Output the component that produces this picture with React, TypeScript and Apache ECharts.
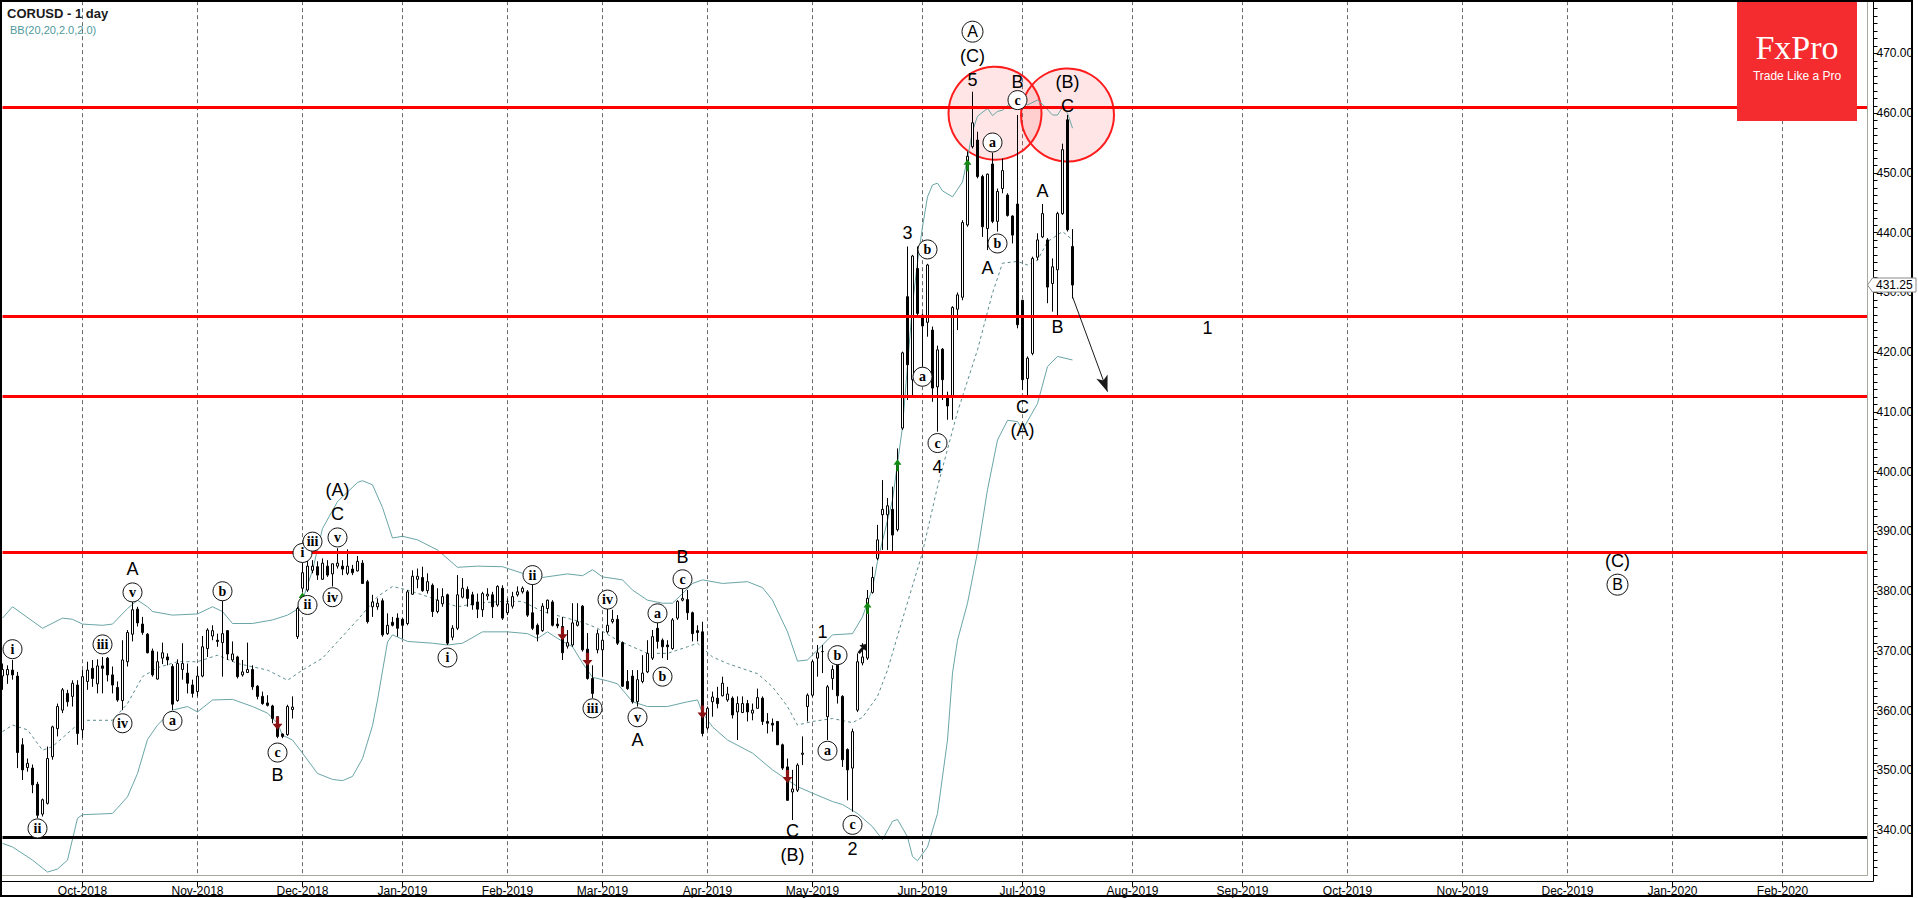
import React, { useEffect, useRef } from 'react';
import * as echarts from 'echarts';

// ---------- axis calendar ----------
const FIRST_DAY = '2018-09-07';
const LAST_DAY = '2020-02-26';
const HOLIDAYS = ['2018-11-22', '2018-12-25', '2019-01-01', '2019-01-21', '2019-02-18', '2019-04-19', '2019-05-27', '2019-07-04', '2019-12-25', '2020-01-01'];
const MONTHS = ['Jan', 'Feb', 'Mar', 'Apr', 'May', 'Jun', 'Jul', 'Aug', 'Sep', 'Oct', 'Nov', 'Dec'];

// ---------- price data: [open, high, low, close] ----------
const candles: number[][] = [
  [365.8, 367.9, 363.5, 366.9], [366.0, 367.6, 364.5, 366.9], [366.8, 368.5, 365.2, 366.0], [365.8, 366.5, 350.4, 353.0],
  [354.3, 355.4, 348.4, 350.1], [350.5, 352.0, 349.8, 351.2], [350.4, 351.0, 346.2, 347.6], [347.7, 348.1, 342.0, 342.5],
  [342.7, 345.3, 342.3, 345.1], [344.5, 354.0, 344.3, 352.0], [352.3, 357.5, 351.8, 357.3], [357.0, 361.2, 355.7, 360.7],
  [360.1, 363.8, 359.6, 363.5], [362.9, 363.5, 360.7, 361.5], [362.4, 365.1, 360.7, 364.6], [364.3, 365.1, 354.3, 356.2],
  [356.8, 366.8, 355.4, 365.7], [364.9, 368.2, 363.5, 366.8], [367.1, 368.5, 364.0, 365.4], [364.5, 368.6, 362.9, 367.5],
  [367.5, 369.0, 362.9, 367.1], [368.8, 369.0, 364.9, 366.0], [366.0, 367.4, 362.9, 364.3], [363.9, 364.9, 361.5, 361.8],
  [361.7, 371.8, 360.1, 368.5], [368.2, 373.5, 367.4, 373.1], [372.8, 378.3, 371.6, 376.9], [377.0, 377.4, 374.1, 374.7],
  [374.5, 375.7, 372.7, 373.1], [372.8, 373.0, 369.6, 369.7], [370.0, 370.4, 365.7, 366.0], [365.3, 369.9, 365.2, 368.2],
  [368.8, 371.4, 367.8, 369.7], [369.0, 369.6, 367.6, 368.5], [367.4, 367.8, 360.1, 361.1], [361.7, 368.6, 361.5, 367.9],
  [366.9, 371.3, 365.2, 367.9], [366.3, 367.9, 362.9, 364.6], [364.3, 365.2, 362.2, 362.9], [363.2, 367.4, 362.4, 365.8],
  [365.8, 372.5, 365.6, 370.7], [370.4, 373.8, 369.0, 373.5], [372.5, 374.3, 371.8, 373.4], [371.8, 372.9, 370.7, 371.6],
  [371.4, 378.5, 365.7, 372.9], [373.4, 373.5, 368.5, 369.5], [368.5, 371.6, 368.2, 369.5], [369.0, 369.2, 365.4, 365.7],
  [366.0, 368.5, 365.7, 366.5], [366.4, 371.4, 366.3, 366.9], [366.9, 367.6, 363.5, 364.0], [364.1, 364.3, 361.9, 362.4],
  [362.4, 363.2, 361.0, 361.2], [361.3, 362.6, 360.7, 360.9], [360.8, 361.0, 357.9, 358.7], [359.0, 359.0, 355.4, 355.7],
  [356.1, 356.2, 355.4, 355.7], [356.0, 361.0, 355.8, 360.7], [360.2, 362.4, 358.7, 360.6], [372.4, 377.4, 372.0, 377.1],
  [380.5, 384.7, 379.9, 383.1], [380.2, 385.2, 379.9, 384.2], [383.5, 385.2, 383.0, 384.2], [384.1, 385.0, 381.9, 382.7],
  [382.0, 385.5, 381.9, 384.7], [384.2, 385.2, 382.4, 382.7], [382.9, 384.6, 380.8, 384.6], [384.2, 387.2, 383.8, 384.7],
  [384.2, 385.2, 382.7, 383.7], [383.0, 387.0, 382.7, 384.2], [383.7, 384.4, 382.7, 383.1], [383.4, 385.9, 383.3, 385.0],
  [384.7, 385.2, 381.2, 381.3], [381.6, 381.9, 374.6, 374.9], [377.4, 379.4, 375.7, 378.2], [377.4, 378.8, 376.9, 378.0],
  [378.4, 378.8, 372.4, 372.7], [372.9, 376.3, 372.7, 374.3], [374.8, 375.7, 374.1, 374.3], [375.5, 376.3, 372.4, 373.8],
  [375.3, 375.5, 372.1, 374.3], [374.6, 380.2, 374.3, 379.9], [379.5, 383.5, 379.4, 382.5], [382.0, 383.8, 380.5, 382.5],
  [382.3, 384.1, 379.9, 380.1], [380.1, 383.0, 379.6, 381.6], [381.0, 381.3, 375.7, 376.6], [376.6, 380.5, 376.3, 378.5],
  [377.9, 380.5, 377.4, 379.1], [379.4, 379.6, 371.0, 371.3], [372.3, 374.3, 371.8, 373.8], [373.8, 382.7, 373.5, 379.4],
  [379.0, 382.2, 378.8, 380.5], [380.3, 380.8, 377.4, 378.8], [379.4, 379.9, 376.9, 377.7], [378.2, 379.6, 375.5, 377.0],
  [376.9, 379.9, 375.7, 379.6], [379.2, 380.5, 378.5, 379.5], [379.4, 379.9, 375.5, 377.4], [377.7, 381.0, 377.4, 380.8],
  [380.5, 381.0, 375.2, 375.5], [376.4, 378.8, 376.0, 377.9], [377.5, 379.9, 377.1, 379.1], [379.4, 380.8, 379.1, 379.9],
  [379.9, 380.8, 379.6, 380.5], [379.9, 380.2, 375.7, 376.0], [376.4, 381.3, 373.5, 373.8], [374.3, 374.6, 371.6, 372.8],
  [373.4, 378.0, 373.2, 377.5], [377.1, 378.6, 376.3, 378.5], [378.2, 378.5, 374.1, 374.3], [374.5, 375.5, 373.8, 374.2],
  [374.1, 375.7, 368.5, 369.7], [370.8, 373.5, 370.4, 371.4], [371.0, 378.0, 370.7, 374.7], [374.3, 378.0, 374.1, 374.9],
  [377.5, 377.7, 369.9, 370.2], [370.3, 373.0, 365.2, 365.4], [365.4, 367.6, 362.1, 362.9], [370.2, 373.6, 369.6, 372.9],
  [370.2, 373.2, 365.7, 371.8], [373.2, 377.4, 372.9, 374.3], [374.9, 376.9, 374.6, 375.3], [375.3, 376.0, 371.0, 371.3],
  [371.4, 371.6, 364.0, 364.1], [364.9, 366.8, 363.5, 363.7], [365.8, 366.8, 361.2, 361.5], [361.5, 366.8, 360.7, 365.2],
  [364.9, 369.3, 364.6, 366.3], [366.5, 371.8, 366.3, 369.6], [368.8, 373.5, 368.5, 372.4], [373.8, 374.9, 370.4, 371.6],
  [371.8, 372.1, 368.8, 370.7], [371.0, 371.8, 368.5, 370.7], [370.4, 375.5, 370.2, 375.2], [375.5, 378.5, 375.2, 378.3],
  [378.5, 380.5, 378.3, 378.8], [378.6, 380.2, 375.2, 376.4], [376.4, 376.6, 371.6, 372.9], [373.4, 374.3, 371.6, 373.1],
  [373.2, 374.9, 355.7, 356.2], [357.1, 360.7, 356.8, 360.4], [361.5, 363.2, 359.0, 362.3], [362.1, 364.0, 360.4, 361.2],
  [362.5, 365.7, 362.4, 364.6], [361.8, 364.0, 361.5, 362.8], [362.1, 362.4, 358.7, 359.3], [359.8, 362.4, 355.1, 361.2],
  [359.7, 362.4, 359.6, 361.2], [361.2, 361.8, 358.2, 359.8], [359.6, 361.2, 358.4, 360.1], [360.4, 363.7, 360.4, 362.2],
  [362.1, 362.4, 357.6, 358.2], [358.2, 359.6, 356.2, 357.9], [357.9, 358.7, 356.5, 357.6], [358.2, 358.2, 354.3, 354.3],
  [354.3, 354.5, 350.1, 350.4], [350.6, 352.0, 345.0, 345.0], [346.4, 350.1, 341.7, 346.9], [346.7, 351.2, 346.4, 350.9],
  [352.7, 355.7, 350.9, 352.9], [360.7, 362.9, 358.2, 362.6], [362.6, 368.5, 362.3, 368.2], [368.8, 371.0, 365.7, 369.7],
  [369.9, 371.0, 366.3, 369.9], [359.0, 364.3, 355.1, 364.0], [365.4, 367.6, 363.5, 366.9], [367.6, 367.9, 361.2, 362.5],
  [362.4, 362.6, 350.6, 351.8], [353.5, 353.7, 345.0, 350.1], [350.4, 357.0, 343.1, 356.5], [360.1, 369.6, 359.8, 368.2],
  [368.0, 371.3, 367.6, 369.0], [368.8, 380.2, 368.5, 378.8], [379.8, 384.1, 379.6, 382.3], [385.5, 391.1, 385.2, 388.6],
  [392.8, 398.6, 386.9, 393.7], [392.8, 395.6, 386.9, 394.3], [393.7, 397.5, 386.6, 389.4], [390.3, 403.9, 390.0, 401.1],
  [407.3, 420.1, 407.0, 419.9], [429.3, 437.7, 412.0, 417.9], [415.4, 436.3, 412.6, 436.1], [434.0, 437.7, 426.0, 426.5],
  [426.2, 426.5, 417.6, 424.4], [425.0, 434.8, 422.6, 434.6], [423.7, 424.3, 411.7, 414.0], [414.2, 421.1, 406.7, 420.4],
  [420.5, 420.7, 412.0, 415.4], [412.5, 413.4, 408.7, 411.0], [412.6, 427.7, 408.7, 427.5], [427.2, 430.0, 423.7, 429.6],
  [429.2, 442.1, 428.7, 441.7], [441.3, 453.6, 441.0, 452.8], [454.4, 463.6, 454.1, 458.4], [455.5, 456.9, 449.1, 449.4],
  [449.4, 449.7, 439.3, 441.0], [440.7, 449.9, 437.1, 449.8], [451.5, 453.4, 441.6, 441.9], [441.9, 447.4, 440.2, 446.9],
  [447.4, 452.4, 446.6, 450.4], [446.3, 446.6, 442.7, 442.9], [442.8, 442.9, 438.2, 439.6], [444.8, 459.7, 424.0, 424.6],
  [428.7, 428.7, 413.7, 415.4], [415.6, 419.3, 412.8, 419.0], [419.8, 436.0, 419.5, 435.7], [435.9, 439.9, 435.4, 438.8],
  [439.3, 444.8, 439.1, 443.2], [438.8, 439.1, 428.2, 430.9], [431.5, 435.7, 426.8, 434.3], [433.8, 443.5, 426.2, 443.2],
  [443.2, 454.9, 443.0, 453.9], [458.9, 459.7, 440.2, 440.5], [437.7, 440.6, 429.0, 431.25],
];

// ---------- Bollinger bands: [bar index, value] ----------
const bbUpper: number[][] = [
  [0, 375.5], [2, 377.4], [8, 373.8], [12, 375.5], [14, 375.3], [16, 374.5], [20, 374.3], [22, 374.5], [25, 377.1], [27, 378.5],
  [29, 377.4], [30, 376.6], [34, 376.0], [39, 376.2], [42, 377.4], [44, 376.6], [46, 374.6], [50, 374.6], [54, 375.2], [57, 376.0],
  [59, 377.0], [60, 378.5], [62, 383.5], [64, 390.5], [67, 395.0], [71, 398.2], [72, 398.5], [74, 397.8], [76, 394.0], [78, 388.9],
  [80, 389.2], [83, 388.6], [87, 386.9], [91, 384.0], [95, 384.2], [100, 384.1], [104, 383.0], [108, 382.3], [113, 382.9], [116, 382.6],
  [118, 383.6], [120, 382.4], [124, 381.9], [126, 380.2], [129, 378.5], [132, 378.0], [134, 378.0], [136, 379.6], [138, 381.3], [140, 381.9],
  [144, 381.3], [149, 381.6], [152, 380.6], [154, 378.5], [157, 373.2], [159, 368.3], [161, 368.5], [164, 371.0], [166, 372.7], [170, 372.9],
  [172, 375.7], [174, 380.5], [175, 385.0], [178, 395.3], [180, 407.5], [182, 428.0], [183, 435.0], [184, 441.0], [185, 446.0], [186, 448.0],
  [187, 448.3], [188, 447.0], [190, 446.0], [192, 448.5], [193, 452.5], [194, 457.0], [195, 459.5], [197, 460.8], [198, 459.6], [199, 460.3],
  [200, 460.5], [202, 462.0], [203, 462.2], [205, 461.4], [207, 462.2], [208, 461.5], [210, 459.7], [211, 459.7], [212, 461.0], [213, 460.0],
  [214, 457.5],
];
const bbMiddle: number[][] = [
  [0, 356.5], [2, 357.6], [5, 356.8], [8, 353.4], [10, 354.0], [13, 356.2], [16, 358.4], [22, 358.4], [25, 361.2], [28, 365.7],
  [31, 367.2], [35, 368.2], [39, 368.2], [43, 369.3], [47, 367.9], [53, 366.8], [57, 365.1], [60, 366.8], [64, 368.8], [71, 375.2],
  [75, 379.1], [78, 380.8], [81, 380.2], [85, 379.1], [91, 377.4], [95, 378.0], [100, 378.3], [104, 378.3], [108, 376.6], [112, 375.7],
  [116, 374.8], [119, 373.8], [123, 371.8], [129, 369.6], [133, 369.6], [137, 370.7], [139, 371.3], [142, 369.0], [145, 367.9], [151, 366.2],
  [154, 364.0], [157, 360.7], [159, 357.6], [162, 358.2], [166, 358.7], [170, 358.0], [172, 358.9], [175, 362.4], [177, 366.8], [179, 372.5],
  [184, 386.5], [187, 397.5], [191, 410.0], [195, 420.4], [198, 429.9], [200, 434.9], [203, 435.2], [205, 434.6], [207, 435.4], [209, 438.5],
  [212, 440.2], [214, 438.8],
];
const bbLower: number[][] = [
  [0, 337.8], [2, 337.2], [6, 335.0], [9, 333.0], [11, 333.5], [13, 335.0], [15, 342.0], [16, 342.6], [22, 342.8], [25, 345.6],
  [27, 349.5], [29, 355.2], [31, 357.6], [34, 360.1], [37, 360.7], [39, 359.8], [42, 361.8], [46, 361.9], [50, 360.7], [53, 359.6],
  [55, 357.9], [56, 355.9], [58, 355.1], [60, 352.9], [63, 349.5], [66, 348.5], [68, 348.3], [70, 349.0], [72, 352.0], [74, 357.5],
  [75, 361.8], [77, 371.5], [78, 372.7], [81, 371.6], [86, 371.3], [89, 371.0], [92, 371.3], [96, 373.2], [101, 373.2], [105, 372.9],
  [107, 372.1], [109, 373.2], [111, 372.1], [114, 370.7], [116, 368.0], [118, 365.6], [121, 365.0], [123, 364.5], [126, 361.5], [129, 360.7],
  [133, 360.7], [137, 361.5], [139, 361.8], [140, 359.6], [142, 357.3], [145, 355.1], [150, 352.9], [154, 350.1], [157, 348.4], [159, 347.3],
  [162, 346.2], [166, 344.8], [168, 344.3], [171, 342.8], [174, 340.6], [176, 338.4], [178, 341.5], [179, 341.8], [181, 338.9], [182, 335.6],
  [183, 334.9], [185, 337.2], [187, 342.8], [189, 355.1], [190, 366.3], [191, 371.8], [193, 378.0], [195, 386.5], [197, 397.0], [199, 405.3],
  [201, 408.6], [203, 408.4], [204, 407.0], [207, 411.4], [209, 417.6], [211, 419.3], [214, 418.7],
];

// ---------- levels and annotations ----------
const redLevels = [461.0, 426.07, 412.68, 386.52];
const blackLevel = 338.8;
const trendArrow = [[214, 429.3], [221, 413.4]];
const plainLabels: (number | string)[][] = [
  [26, 383.7, 'A'], [55, 349.2, 'B'], [67, 396.9, '(A)'], [67, 393.0, 'C'], [127, 355.1, 'A'], [136, 385.8, 'B'],
  [158, 339.8, 'C'], [158, 335.8, '(B)'], [164, 373.2, '1'], [170, 336.8, '2'], [181, 439.9, '3'], [187, 400.8, '4'],
  [197, 434.05, 'A'], [194, 469.6, '(C)'], [194, 465.6, '5'], [203, 465.3, 'B'], [204, 410.9, 'C'], [204, 407.0, '(A)'],
  [208, 446.9, 'A'], [211, 424.3, 'B'], [213, 465.3, '(B)'], [213, 461.2, 'C'], [241, 424.0, '1'], [323, 384.98, '(C)'],
];
const circledLabels: (number | string)[][] = [
  [2, 370.3, 'i'], [7, 340.3, 'ii'], [20, 371.1, 'iii'], [24, 357.9, 'iv'], [26, 379.8, 'v'], [34, 358.3, 'a'], [44, 380.0, 'b'],
  [55, 353.0, 'c'], [60, 386.4, 'i'], [61, 377.7, 'ii'], [62, 388.3, 'iii'], [66, 379.0, 'iv'], [67, 389.0, 'v'], [89, 368.9, 'i'],
  [106, 382.7, 'ii'], [118, 360.4, 'iii'], [121, 378.6, 'iv'], [127, 358.9, 'v'], [131, 376.3, 'a'], [132, 365.7, 'b'], [136, 382.0, 'c'],
  [165, 353.3, 'a'], [167, 369.3, 'b'], [170, 340.9, 'c'], [184, 415.9, 'a'], [185, 437.2, 'b'], [187, 404.8, 'c'], [198, 455.1, 'a'],
  [199, 438.2, 'b'], [203, 462.2, 'c'],
];
const bigCircledLabels: (number | string)[][] = [[194, 473.65, 'A'], [323, 381.1, 'B']];
const zoneCircles: number[][] = [[198, 460.0], [213, 459.7]];
const upSignals: number[][] = [[60, 378.8], [173, 377.2], [179, 401.1], [193, 451.3]];
const downSignals: number[][] = [[55, 357.9], [112, 372.9], [117, 368.6], [140, 359.8], [157, 349.0]];
const entrySignals: number[][] = [[172, 370.4]];

const SANS = 'Liberation Sans, Arial, sans-serif';
const SERIF = 'Liberation Serif, Times New Roman, serif';

function buildDates(): string[] {
  const out: string[] = [];
  const d = new Date(FIRST_DAY + 'T00:00:00Z');
  const end = new Date(LAST_DAY + 'T00:00:00Z').getTime();
  while (d.getTime() <= end) {
    const wd = d.getUTCDay();
    const s = d.toISOString().slice(0, 10);
    if (wd !== 0 && wd !== 6 && HOLIDAYS.indexOf(s) < 0) out.push(s);
    d.setUTCDate(d.getUTCDate() + 1);
  }
  return out;
}

export default function App() {
  const ref = useRef<HTMLDivElement>(null);

  useEffect(() => {
    if (!ref.current) return;
    const chart = echarts.init(ref.current, undefined, { renderer: 'svg' });
    const dates = buildDates();
    const N = dates.length;
    const monthStarts = new Set<number>();
    for (let i = 1; i < N; i++) {
      if (dates[i].slice(0, 7) !== dates[i - 1].slice(0, 7)) monthStarts.add(i);
    }
    const isMonthStart = (i: number) => monthStarts.has(i);
    const step = 5;
    const gridLeft = 2.5;
    const gridWidth = step * (N - 1);
    const yMin = 332.5;
    const yMax = 478.75;
    const pxPerUnit = 5.975;
    const gridTop = (478.95 - yMax) * pxPerUnit;
    const gridHeight = (yMax - yMin) * pxPerUnit;
    const axisX = 1873.5;
    const axisY = 881.5;

    const candleData = candles.map((c) => [c[0], c[3], c[2], c[1]]);
    const lastClose = candles[candles.length - 1][3];

    const upArrow = 'path://M5 0 L10 5.5 L6.6 5.5 L6.6 12 L3.4 12 L3.4 5.5 L0 5.5 Z';
    const downArrow = 'path://M3.4 0 L6.6 0 L6.6 6.5 L10 6.5 L5 12 L0 6.5 L3.4 6.5 Z';

    const option: any = {
      animation: false,
      backgroundColor: '#ffffff',
      grid: { left: gridLeft, top: gridTop, width: gridWidth, height: gridHeight },
      xAxis: {
        type: 'category',
        data: dates,
        boundaryGap: false,
        offset: axisY - (gridTop + gridHeight) + 0.5,
        axisLine: { show: false },
        axisTick: { show: true, interval: isMonthStart, length: 5, lineStyle: { color: '#000' } },
        axisLabel: {
          interval: isMonthStart,
          margin: 3,
          fontSize: 12,
          fontFamily: SANS,
          color: '#000',
          formatter: (v: string) => MONTHS[parseInt(v.slice(5, 7), 10) - 1] + '-' + v.slice(0, 4),
        },
        splitLine: { show: true, interval: isMonthStart, lineStyle: { color: '#6a6a6a', type: [4, 3], width: 1 } },
      },
      yAxis: {
        type: 'value',
        position: 'right',
        min: yMin,
        max: yMax,
        interval: 1.25,
        offset: axisX - (gridLeft + gridWidth),
        scale: true,
        axisLine: { show: false },
        axisTick: { show: true, length: 4, lineStyle: { color: '#000' } },
        axisLabel: {
          margin: 3,
          fontSize: 12,
          fontFamily: SANS,
          color: '#000',
          formatter: (v: number) => {
            const r = Math.round(v);
            return r % 10 === 0 && Math.abs(v - r) < 1e-6 ? v.toFixed(2) : '';
          },
        },
        splitLine: { show: false },
      },
      series: [
        {
          name: 'zones', type: 'scatter', z: 1, silent: true,
          symbol: 'circle', symbolSize: 93,
          itemStyle: { color: 'rgba(255,40,40,0.12)', borderColor: '#ff1c1c', borderWidth: 2, opacity: 1 },
          data: zoneCircles.map((p, k) => (k === 0 ? { value: p, symbolOffset: [2.5, 0] } : { value: p })),
        },
        {
          name: 'BB upper', type: 'line', z: 2, silent: true, showSymbol: false, symbol: 'none',
          lineStyle: { color: '#6aa5a6', width: 1 }, data: bbUpper,
        },
        {
          name: 'BB lower', type: 'line', z: 2, silent: true, showSymbol: false, symbol: 'none',
          lineStyle: { color: '#6aa5a6', width: 1 }, data: bbLower,
        },
        {
          name: 'BB middle', type: 'line', z: 2, silent: true, showSymbol: false, symbol: 'none',
          lineStyle: { color: '#5c8c8d', width: 1, type: [3, 3] }, data: bbMiddle,
        },
        {
          name: 'CORUSD', type: 'candlestick', z: 3, barWidth: 3,
          itemStyle: { color: '#ffffff', color0: '#000000', borderColor: '#000000', borderColor0: '#000000', borderWidth: 1 },
          data: candleData,
        },
        {
          name: 'levels', type: 'line', z: 4, data: [], silent: true,
          markLine: {
            silent: true, symbol: ['none', 'none'], label: { show: false },
            data: [
              ...redLevels.map((v) => ({ yAxis: v, lineStyle: { color: '#ff0000', width: 3, type: 'solid' } })),
              { yAxis: blackLevel, lineStyle: { color: '#000000', width: 3, type: 'solid' } },
            ],
          },
        },
        {
          name: 'trend', type: 'line', z: 4, data: [], silent: true,
          markLine: {
            silent: true, symbol: ['none', 'arrow'], symbolSize: [9, 16], label: { show: false },
            lineStyle: { color: '#1a1a1a', width: 1, type: 'solid' },
            data: [[{ coord: trendArrow[0] }, { coord: trendArrow[1] }]],
          },
        },
        {
          name: 'up', type: 'scatter', z: 5, silent: true, symbol: upArrow, symbolSize: [8, 12],
          itemStyle: { color: '#138a13', opacity: 1 }, data: upSignals,
        },
        {
          name: 'down', type: 'scatter', z: 5, silent: true, symbol: downArrow, symbolSize: [10, 13],
          itemStyle: { color: '#8a1212', opacity: 1 }, data: downSignals,
        },
        {
          name: 'entry', type: 'scatter', z: 5, silent: true, symbol: upArrow, symbolSize: [9, 12], symbolRotate: -40,
          itemStyle: { color: '#111', opacity: 1 }, data: entrySignals,
        },
        {
          name: 'circled', type: 'scatter', z: 6, silent: true, symbol: 'circle', symbolSize: 19,
          itemStyle: { color: '#ffffff', borderColor: '#111', borderWidth: 1, opacity: 1 },
          label: {
            show: true, position: 'inside', formatter: (p: any) => p.value[2],
            fontFamily: SERIF, fontWeight: 'bold', fontSize: 14, color: '#000', opacity: 1,
          },
          data: circledLabels,
        },
        {
          name: 'bigCircled', type: 'scatter', z: 6, silent: true, symbol: 'circle', symbolSize: 21,
          itemStyle: { color: '#ffffff', borderColor: '#111', borderWidth: 1, opacity: 1 },
          label: {
            show: true, position: 'inside', formatter: (p: any) => p.value[2],
            fontFamily: SANS, fontSize: 16, color: '#000', opacity: 1,
          },
          data: bigCircledLabels,
        },
        {
          name: 'plain', type: 'scatter', z: 6, silent: true, symbol: 'circle', symbolSize: 1,
          itemStyle: { color: 'rgba(0,0,0,0)', opacity: 1 },
          label: {
            show: true, position: 'inside', formatter: (p: any) => p.value[2],
            fontFamily: SANS, fontSize: 18, color: '#000', opacity: 1,
          },
          data: plainLabels,
        },
      ],
    };
    chart.setOption(option);

    const tagY = chart.convertToPixel({ yAxisIndex: 0 }, lastClose) as number;
    const graphics: any[] = [
      { type: 'line', silent: true, z: 50, shape: { x1: 0, y1: 875.5, x2: 1867.5, y2: 875.5 }, style: { stroke: '#a9a99b', lineWidth: 1 } },
      { type: 'line', silent: true, z: 50, shape: { x1: 1867.5, y1: 0, x2: 1867.5, y2: 875.5 }, style: { stroke: '#a9a99b', lineWidth: 1 } },
      { type: 'line', silent: true, z: 50, shape: { x1: axisX, y1: 0, x2: axisX, y2: axisY }, style: { stroke: '#000', lineWidth: 1 } },
      { type: 'line', silent: true, z: 50, shape: { x1: 0, y1: axisY, x2: axisX, y2: axisY }, style: { stroke: '#000', lineWidth: 1 } },
      { type: 'rect', silent: true, z: 60, shape: { x: 1, y: 1, width: 1911, height: 895 }, style: { fill: 'none', stroke: '#000', lineWidth: 2 } },
      { type: 'text', silent: true, z: 60, x: 7, y: 7, style: { text: 'CORUSD - 1 day', font: 'bold 13px ' + SANS, fill: '#1a1a1a', textVerticalAlign: 'top' } },
      { type: 'text', silent: true, z: 60, x: 10, y: 24, style: { text: 'BB(20,20,2.0,2.0)', font: '11px ' + SANS, fill: '#4f9a9b', textVerticalAlign: 'top' } },
      { type: 'rect', silent: true, z: 40, shape: { x: 1737, y: 0, width: 120, height: 121 }, style: { fill: '#f42b2f' } },
      { type: 'text', silent: true, z: 41, x: 1797, y: 64, style: { text: 'FxPro', font: '34px ' + SERIF, fill: '#ffffff', textAlign: 'center', textVerticalAlign: 'bottom' } },
      { type: 'text', silent: true, z: 41, x: 1797, y: 82, style: { text: 'Trade Like a Pro', font: '12px ' + SANS, fill: '#ffffff', textAlign: 'center', textVerticalAlign: 'bottom' } },
      {
        type: 'polygon', silent: true, z: 70,
        shape: { points: [[1867.5, tagY], [1872.5, tagY - 7], [1916, tagY - 7], [1916, tagY + 7], [1872.5, tagY + 7]] },
        style: { fill: '#ffffff', stroke: '#8a8a8a', lineWidth: 1 },
      },
      { type: 'text', silent: true, z: 71, x: 1876, y: tagY, style: { text: lastClose.toFixed(2), font: '12px ' + SANS, fill: '#000', textVerticalAlign: 'middle' } },
    ];
    chart.setOption({ graphic: graphics });

    return () => chart.dispose();
  }, []);

  return <div ref={ref} style={{ position: 'absolute', left: 0, top: 0, width: 1918, height: 898 }} />;
}
